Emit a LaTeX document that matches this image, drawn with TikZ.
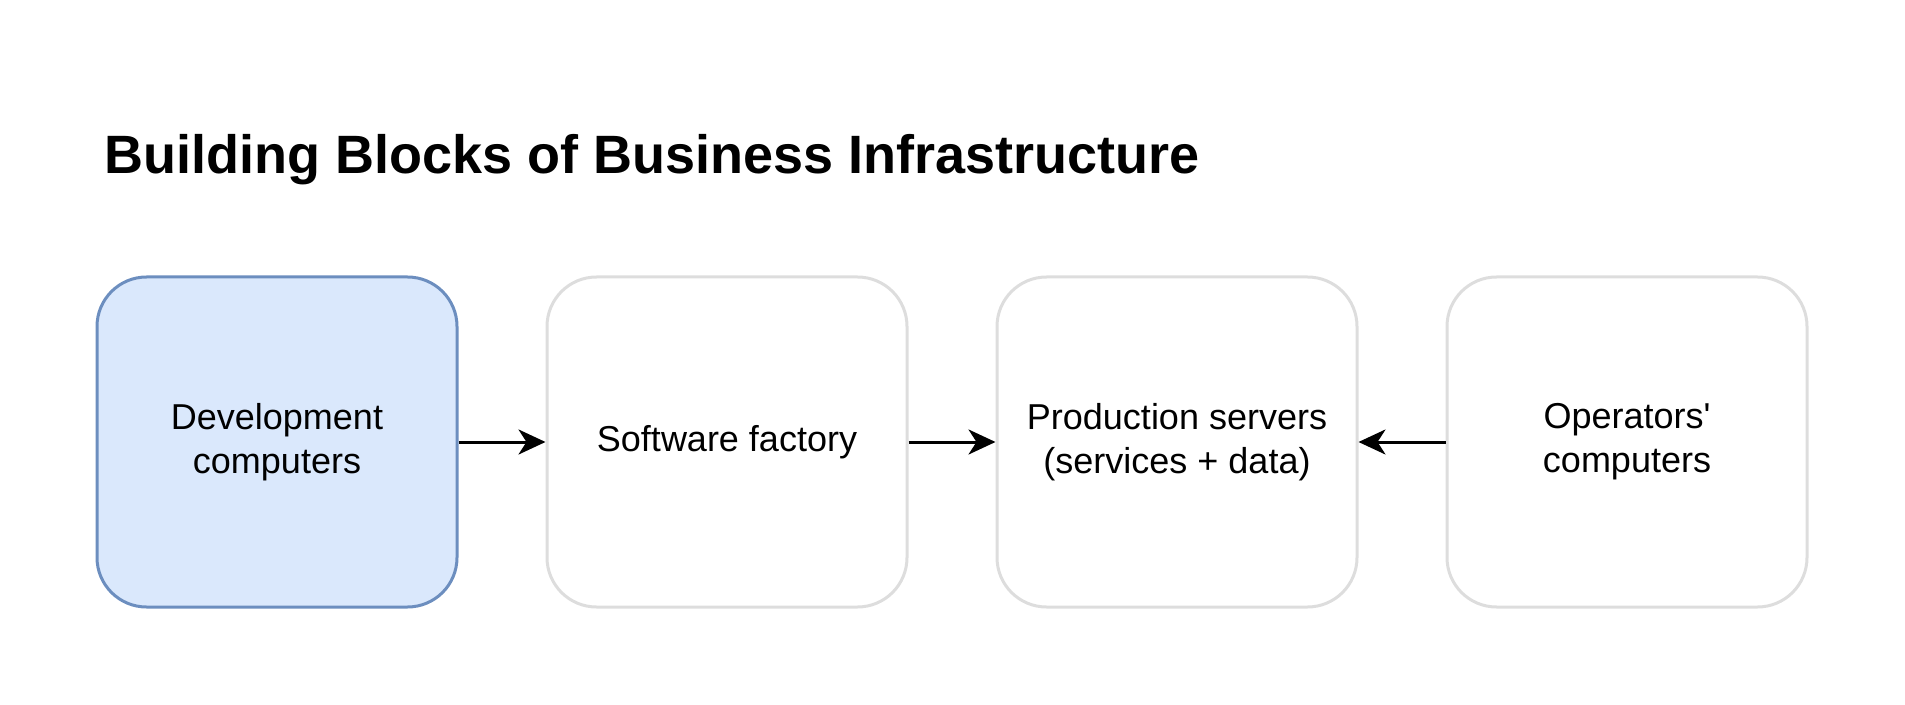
\documentclass[tikz,border=0pt]{standalone}
\usepackage{fontspec}
\setmainfont{Liberation Sans}[Ligatures=TeXOff]
\usetikzlibrary{arrows.meta,positioning}
\definecolor{devfill}{HTML}{DAE8FC}
\definecolor{devdraw}{HTML}{6C8EBF}
\definecolor{boxgray}{HTML}{DDDDDD}

\begin{document}
\begin{tikzpicture}[->, >={Stealth[length=13.5pt,width=12.5pt,inset=4pt]}, node distance=225pt, line width=1.5pt, block/.style = {rectangle, rounded corners=24.75pt, draw=boxgray, fill=white, minimum width=180pt, minimum height=165pt, align=center, font=\fontsize{18pt}{22pt}\selectfont}]
			\useasboundingbox (0,0) rectangle (952.5pt,-352.5pt);
			\node[anchor=base west, inner sep=0pt, font=\fontsize{27pt}{32pt}\selectfont\bfseries] (title) at (51.5pt,-86.65pt) {Building Blocks of Business Infrastructure};
			\node[block, draw=devdraw, fill=devfill] (dev) at (138.5pt,-221pt) {Development\\computers};
			\node[block] (sw) [right of=dev] {Software factory};
			\node[block] (prod) [right of=sw] {Production servers\\(services + data)};
			\node[block] (ops) [right of=prod] {Operators'\\computers};
			\path
				(dev) edge (sw)
				(sw) edge (prod)
				(ops) edge (prod);
		\end{tikzpicture}
\end{document}
